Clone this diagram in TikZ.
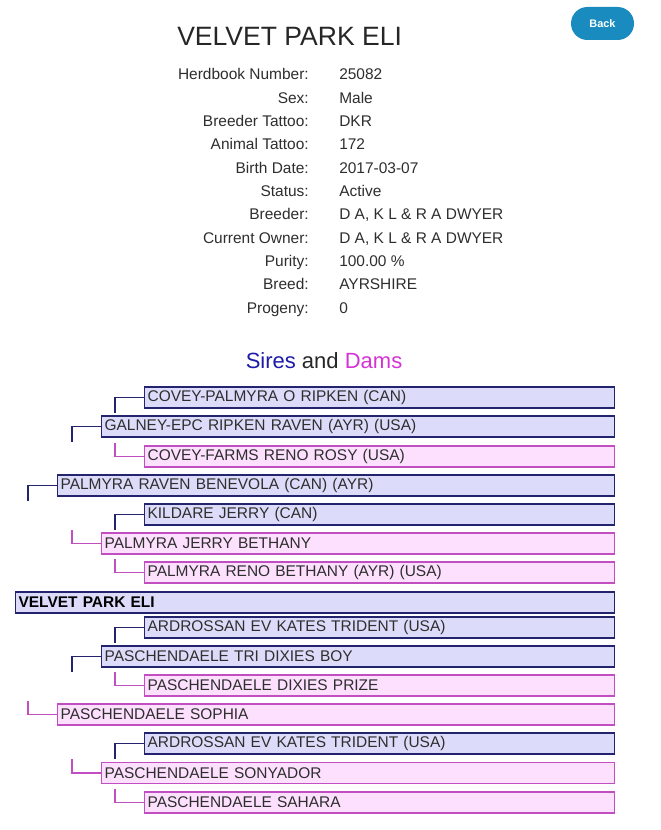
\documentclass[tikz,border=0pt]{standalone}
\usepackage{fontspec}
\setmainfont{Liberation Sans}
\usepackage{tikz}
\usetikzlibrary{positioning}
\definecolor{sirefill}{HTML}{DCDCFA}
\definecolor{sireline}{HTML}{23236E}
\definecolor{damfill}{HTML}{FDE0FD}
\definecolor{damline}{HTML}{C24FC2}
\definecolor{backblue}{HTML}{1A8BBF}
\definecolor{txt}{HTML}{2E2E2E}
\definecolor{siretitle}{HTML}{1C1CA8}
\definecolor{damtitle}{HTML}{D633D6}
\newcommand\pedfont{\fontsize{11.6pt}{13pt}\selectfont}

\begin{document}
\begin{tikzpicture}[
    x=0.75pt, y=-0.75pt,
    box/.style={draw, anchor=west, align=left, font=\pedfont, text=txt,
                minimum height=15.75pt, inner xsep=2.25pt, inner ysep=0pt,
                line width=0.9pt},
    sirebox/.style={box, fill=sirefill, draw=sireline},
    dambox/.style={box, fill=damfill, draw=damline},
    gen0/.style={text width=444.75pt},
    gen1/.style={text width=413.25pt},
    gen2/.style={text width=380.25pt},
    gen3/.style={text width=348pt},
    sireln/.style={draw=sireline, line width=0.8pt},
    damln/.style={draw=damline, line width=0.8pt},
    lab/.style={anchor=base east, font=\pedfont, text=txt, inner sep=0pt},
    val/.style={anchor=base west, font=\pedfont, text=txt, inner sep=0pt},
    backbtn/.style={fill=backblue, rounded corners=12.3pt, text=white,
                    minimum width=47.25pt, minimum height=24.75pt,
                    font=\bfseries\fontsize{8.2pt}{10pt}\selectfont},
]
\fill[white] (0,0) rectangle (660,830);
\useasboundingbox (0,0) rectangle (660,830);

% ---- Header ----
\node[anchor=base west, inner sep=0pt, text=black!85,
      font=\fontsize{19.9pt}{24pt}\selectfont] (title) at (177,46) {VELVET PARK ELI};
\node[backbtn] (back) at (602.5,23.5) {Back};

\foreach \l/\v [count=\i from 0] in {Herdbook Number:/25082, Sex:/Male,
    Breeder Tattoo:/DKR, Animal Tattoo:/172, Birth Date:/2017-03-07, Status:/Active,
    {Breeder:/D A, K L \& R A DWYER}, {Current Owner:/D A, K L \& R A DWYER},
    Purity:/100.00 \%, Breed:/AYRSHIRE, Progeny:/0} {
  \node[lab] (lab\i) at (309,80+23.3*\i) {\l};
  \node[val] (val\i) at (339,80+23.3*\i) {\v};
}

\node[anchor=base, inner sep=0pt, font=\fontsize{16.5pt}{20pt}\selectfont] (heading) at (324,368)
  {\textcolor{siretitle}{Sires} \textcolor{black!85}{and} \textcolor{damtitle}{Dams}};

% ---- Sire side ----
\node[sirebox, gen3] (sss) at (144,397.5) {COVEY-PALMYRA O RIPKEN (CAN)};
\node[sirebox, gen2] (ss)  at (101,426.5) {GALNEY-EPC RIPKEN RAVEN (AYR) (USA)};
\node[dambox,  gen3] (ssd) at (144,456.5) {COVEY-FARMS RENO ROSY (USA)};
\node[sirebox, gen1] (s)   at (57,485.5)  {PALMYRA RAVEN BENEVOLA (CAN) (AYR)};
\node[sirebox, gen3] (sds) at (144,514.5) {KILDARE JERRY (CAN)};
\node[dambox,  gen2] (sd)  at (101,543.5) {PALMYRA JERRY BETHANY};
\node[dambox,  gen3] (sdd) at (144,572.5) {PALMYRA RENO BETHANY (AYR) (USA)};

\node[sirebox, gen0, font=\pedfont\bfseries, text=black] (eli) at (15,602.5) {VELVET PARK ELI};

% ---- Dam side ----
\node[sirebox, gen3] (dss) at (144,627.5) {ARDROSSAN EV KATES TRIDENT (USA)};
\node[sirebox, gen2] (ds)  at (101,656.5) {PASCHENDAELE TRI DIXIES BOY};
\node[dambox,  gen3] (dsd) at (144,685.5) {PASCHENDAELE DIXIES PRIZE};
\node[dambox,  gen1] (d)   at (57,714.5)  {PASCHENDAELE SOPHIA};
\node[sirebox, gen3] (dds) at (144,743.5) {ARDROSSAN EV KATES TRIDENT (USA)};
\node[dambox,  gen2] (dd)  at (101,773)   {PASCHENDAELE SONYADOR};
\node[dambox,  gen3] (ddd) at (144,802.5) {PASCHENDAELE SAHARA};

% connectors
\draw[sireln] (sss.west) -| ++(-29,15);
\draw[sireln] (ss.west)  -| ++(-29,15);
\draw[damln]  (ssd.west) -| ++(-29,-14);
\draw[sireln] (s.west)   -| ++(-29,15);
\draw[sireln] (sds.west) -| ++(-29,15);
\draw[damln]  (sd.west)  -| ++(-29,-14);
\draw[damln]  (sdd.west) -| ++(-29,-14);
\draw[sireln] (dss.west) -| ++(-29,15);
\draw[sireln] (ds.west)  -| ++(-29,15);
\draw[damln]  (dsd.west) -| ++(-29,-14);
\draw[damln]  (d.west)   -| ++(-29,-14);
\draw[sireln] (dds.west) -| ++(-29,15);
\draw[damln]  (dd.west)  -| ++(-29,-14);
\draw[damln]  (ddd.west) -| ++(-29,-14);
\end{tikzpicture}
\end{document}
